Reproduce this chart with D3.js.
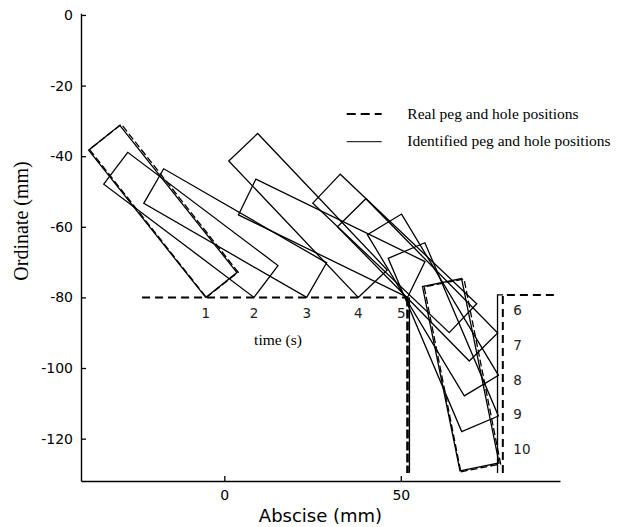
<!DOCTYPE html>
<html><head><meta charset="utf-8">
<script src="https://cdn.jsdelivr.net/npm/d3@7"></script>
<style>body{margin:0;background:#fff} svg{display:block}</style>
</head><body>
<svg id="c" width="618" height="527"></svg>
<script>
// ---- data (mm) ----
const yTicks = [0, -20, -40, -60, -80, -100, -120];
const xTicks = [0, 50];
const times = [1, 2, 3, 4, 5, 6, 7, 8, 9, 10];
// identified peg pose: lower contact corner (x, y) and tilt of the long axis (deg, top leaning left)
const identX = [-5.27, 8.41, 23.34, 37.95, 51.9, 63.73, 69.4, 67.98, 67.25, 66.77];
const identY = [-80, -80, -80, -80, -80, -89.98, -98.0, -107.9, -118.0, -129.15];
const identAngle = [38.5, 53, 60, 43.5, 64, 46.5, 44.5, 31, 23, 11.5];
// real peg pose (shown at first and last instant)
const realTimes = [1, 10];
const realX = [-5.1, 67.0];
const realY = [-80, -129.4];
const realAngle = [38.3, 11.2];
const identPegSize = [11.3, 53.3];   // width, length
const realPegSize = [11.5, 53.4];
// hole outlines
const realHoleLeft = [[-23.3, -80], [51.9, -80], [51.9, -129.7]];
const realHoleRight = [[78.9, -129.7], [78.9, -79.3], [93.4, -79.3]];
const identHoleLeft = [[52.45, -80], [52.45, -129.7]];
const identHoleRight = [[77.4, -129.7], [77.4, -79.3], [79.0, -79.3]];
const legendLabels = ["Real peg and hole positions", "Identified peg and hole positions"];

// ---- chart ----
const svg = d3.select("#c");
const x = d3.scaleLinear().domain([-40.6, 95.1]).range([81, 560]);
const y = d3.scaleLinear().domain([-132, 0.5]).range([481, 13.2]);
const line = d3.line().x(d => x(d[0])).y(d => y(d[1]));
const sansFont = "DejaVu Sans, sans-serif";
const serifFont = "Liberation Serif, Times New Roman, serif";

function pegCorners(x0, y0, ang, size) {
  const a = ang * Math.PI / 180, w = size[0], l = size[1];
  const ux = -Math.sin(a), uy = Math.cos(a), vx = Math.cos(a), vy = Math.sin(a);
  return [[x0, y0], [x0 + w * vx, y0 + w * vy], [x0 + w * vx + l * ux, y0 + w * vy + l * uy], [x0 + l * ux, y0 + l * uy]];
}

// axes
const fmt = d => String(d);
const gy = svg.append("g").attr("transform", `translate(${x(-40.6)},0)`)
  .call(d3.axisLeft(y).tickValues(yTicks).tickFormat(fmt).tickSizeInner(-5).tickSizeOuter(0).tickPadding(8));
const gx = svg.append("g").attr("transform", `translate(0,${y(-132)})`)
  .call(d3.axisBottom(x).tickValues(xTicks).tickFormat(fmt).tickSizeInner(-5).tickSizeOuter(0).tickPadding(9));
[gx, gy].forEach(g => {
  g.selectAll("path.domain").attr("stroke", "#000").attr("stroke-width", 1.4);
  g.selectAll(".tick line").attr("stroke", "#000").attr("stroke-width", 1.3);
  g.selectAll(".tick text").attr("fill", "#000").attr("font-family", sansFont).attr("font-size", 14);
});

// hole
const gHole = svg.append("g").attr("fill", "none").attr("stroke", "#000");
gHole.append("path").attr("d", line(realHoleLeft.slice(0, 2))).attr("stroke-width", 2).attr("stroke-dasharray", "8,5");
gHole.append("path").attr("d", line(realHoleLeft.slice(1))).attr("stroke-width", 2.6).attr("stroke-dasharray", "9,3");
gHole.append("path").attr("d", line(realHoleRight)).attr("stroke-width", 2).attr("stroke-dasharray", "8,5");
gHole.append("path").attr("d", line(identHoleLeft)).attr("stroke-width", 1.3);
gHole.append("path").attr("d", line(identHoleRight)).attr("stroke-width", 1.3);

// pegs
const gPeg = svg.append("g").attr("fill", "none").attr("stroke", "#000").attr("stroke-linejoin", "miter");
times.forEach((t, i) => {
  gPeg.append("path").attr("d", line(pegCorners(identX[i], identY[i], identAngle[i], identPegSize)) + "Z")
    .attr("stroke-width", 1.3);
});
realTimes.forEach((t, i) => {
  gPeg.append("path").attr("d", line(pegCorners(realX[i], realY[i], realAngle[i], realPegSize)) + "Z")
    .attr("stroke-width", 1.3).attr("stroke-dasharray", "7,3");
});

// time labels
const gT = svg.append("g").attr("font-family", sansFont).attr("font-size", 13.5).attr("fill", "#222");
times.forEach((t, i) => {
  if (i < 5) {
    gT.append("text").attr("x", i === 4 ? x(identX[i]) - 2 : x(identX[i]))
      .attr("y", y(-80) + 21).attr("text-anchor", i === 4 ? "end" : "middle").text(t);
  } else {
    gT.append("text").attr("x", x(realHoleRight[1][0]) + 10.5)
      .attr("y", y(-80) + 18 + (i - 5) * 34.6).text(t);
  }
});
svg.append("text").attr("x", 278).attr("y", 345).attr("text-anchor", "middle")
  .attr("font-family", serifFont).attr("font-size", 15.5).text("time (s)");

// axis titles
svg.append("text").attr("x", 320.5).attr("y", 522).attr("text-anchor", "middle")
  .attr("font-family", sansFont).attr("font-size", 18).text("Abscise (mm)");
svg.append("text").attr("transform", "translate(28,221) rotate(-90)").attr("text-anchor", "middle")
  .attr("font-family", serifFont).attr("font-size", 20).text("Ordinate (mm)");

// legend
const gL = svg.append("g");
legendLabels.forEach((lab, i) => {
  const ly = 114 + i * 27.7;
  gL.append("line").attr("x1", 346.7).attr("x2", 381.7).attr("y1", ly).attr("y2", ly)
    .attr("stroke", "#000").attr("stroke-width", i === 0 ? 2 : 1)
    .attr("stroke-dasharray", i === 0 ? "9,5" : null);
  gL.append("text").attr("x", 407.3).attr("y", ly + 4.5)
    .attr("font-family", serifFont).attr("font-size", 15.5).text(lab);
});
</script>
</body></html>
